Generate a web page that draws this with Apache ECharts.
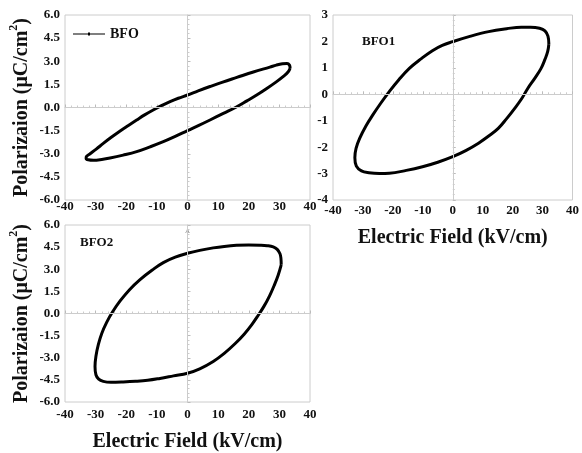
<!DOCTYPE html>
<html><head><meta charset="utf-8">
<script src="https://cdn.jsdelivr.net/npm/echarts@6/dist/echarts.min.js"></script>
<style>html,body{margin:0;padding:0;background:#fff}#c{width:582px;height:453px}</style>
</head><body><div id="c"></div>
<script>
const bfoE = [33.5, 33.3, 32.5, 31.0, 29.0, 26.9, 21.5, 16.1, 11.5, 7.35, 3.5, 0, -3.0, -5.7, -8.5, -11.2, -14.0, -16.6, -19.3, -22.0, -25.0, -27.5, -29.8, -31.8, -33.0, -33.1, -32.4, -30.7, -28.0, -25.3, -21.0, -16.6, -12.2, -7.9, -4.0, 0, 3.7, 7.35, 11.7, 16.1, 19.4, 22.6, 26.0, 29.1, 31.3, 32.9, 33.5];
const bfoP = [2.55, 2.75, 2.86, 2.84, 2.75, 2.62, 2.3, 1.95, 1.65, 1.36, 1.08, 0.81, 0.6, 0.38, 0.12, -0.16, -0.48, -0.81, -1.16, -1.52, -1.95, -2.33, -2.7, -3.0, -3.18, -3.3, -3.39, -3.42, -3.37, -3.28, -3.09, -2.86, -2.55, -2.22, -1.88, -1.5, -1.16, -0.81, -0.38, 0.05, 0.43, 0.81, 1.25, 1.68, 2.02, 2.32, 2.55];
const bfo1E = [32.1, 31.8, 30.8, 29.0, 26.0, 22.9, 18.0, 12.0, 6.0, 0, -3.5, -6.8, -10.5, -14.5, -18.0, -21.2, -24.0, -26.7, -29.0, -31.1, -32.3, -32.7, -32.2, -30.5, -28.0, -24.5, -21.2, -15.5, -10.1, -5.0, 0, 4.5, 8.6, 12.0, 15.2, 18.0, 20.7, 23.0, 25.1, 27.5, 29.5, 30.8, 31.7, 32.1];
const bfo1P = [1.9, 2.2, 2.4, 2.5, 2.54, 2.54, 2.48, 2.37, 2.2, 1.99, 1.85, 1.65, 1.35, 0.98, 0.55, 0.1, -0.33, -0.78, -1.2, -1.67, -2.05, -2.4, -2.72, -2.9, -2.97, -3.0, -2.99, -2.88, -2.74, -2.57, -2.36, -2.12, -1.85, -1.58, -1.29, -0.92, -0.53, -0.17, 0.23, 0.62, 0.98, 1.32, 1.61, 1.9];
const bfo2E = [30.6, 30.5, 30.2, 29.3, 28.0, 26.0, 23.7, 20.0, 16.0, 12.0, 8.4, 4.0, 0, -4.0, -7.9, -11.5, -15.5, -19.0, -22.0, -24.5, -26.4, -28.0, -29.1, -29.9, -30.2, -29.9, -29.0, -27.5, -25.0, -21.0, -17.0, -13.0, -9.0, -4.6, 0, 4.0, 8.4, 12.0, 15.5, 18.5, 21.0, 23.0, 25.0, 26.8, 28.3, 29.6, 30.6];
const bfo2P = [3.3, 3.75, 4.05, 4.35, 4.52, 4.6, 4.63, 4.64, 4.62, 4.55, 4.45, 4.28, 4.08, 3.82, 3.45, 2.95, 2.3, 1.6, 0.85, 0.1, -0.6, -1.35, -2.1, -2.9, -3.6, -4.15, -4.45, -4.6, -4.66, -4.64, -4.6, -4.53, -4.4, -4.23, -4.05, -3.75, -3.25, -2.7, -2.05, -1.4, -0.75, -0.15, 0.5, 1.2, 1.9, 2.6, 3.3];
const xTicks = [-40, -30, -20, -10, 0, 10, 20, 30, 40];
const yTicksA = [-6.0, -4.5, -3.0, -1.5, 0.0, 1.5, 3.0, 4.5, 6.0];
const yTicksB = [-4, -3, -2, -1, 0, 1, 2, 3];
const seriesNames = ['BFO', 'BFO1', 'BFO2'];
const xTitle = 'Electric Field (kV/cm)';

const FONT = '"Liberation Serif", "Times New Roman", serif';
function zip(a, b) { return a.map((v, i) => [v, b[i]]); }
const lbl = { fontFamily: FONT, fontWeight: 'bold', fontSize: 13, color: '#111' };
const yName = '{a|Polarizaion (μC/cm}{s|2}{a|)}';
const yNameStyle = {
  fontFamily: FONT, fontWeight: 'bold', fontSize: 20, color: '#111',
  rich: {
    a: { fontFamily: FONT, fontWeight: 'bold', fontSize: 20, color: '#111', lineHeight: 24, verticalAlign: 'bottom' },
    s: { fontFamily: FONT, fontWeight: 'bold', fontSize: 12, color: '#111', lineHeight: 24, verticalAlign: 'top' }
  }
};
function xAxis(gi, margin, name, gap) {
  return {
    type: 'value', gridIndex: gi, min: xTicks[0], max: xTicks[xTicks.length - 1], interval: 10,
    axisLine: { show: true, lineStyle: { color: '#ccc' } },
    axisTick: { show: true, inside: true, length: 3, lineStyle: { color: '#bbb' } },
    minorTick: { show: true, splitNumber: 5, length: 2, lineStyle: { color: '#ccc' } },
    splitLine: { show: false },
    axisLabel: Object.assign({ margin: margin }, lbl),
    name: name || '', nameLocation: 'middle', nameGap: gap || 30,
    nameTextStyle: { fontFamily: FONT, fontWeight: 'bold', fontSize: 20, color: '#111' }
  };
}
function yAxis(gi, ticks, interval, dec, name) {
  return {
    type: 'value', gridIndex: gi, min: ticks[0], max: ticks[ticks.length - 1], interval: interval,
    axisLine: { show: true, lineStyle: { color: '#ccc' } },
    axisTick: { show: true, inside: true, length: 3, lineStyle: { color: '#bbb' } },
    minorTick: { show: true, splitNumber: 5, length: 2, lineStyle: { color: '#ccc' } },
    splitLine: { show: false },
    axisLabel: Object.assign({ margin: 5, formatter: v => v.toFixed(dec) }, lbl),
    name: name || '', nameLocation: 'middle', nameGap: 33, nameTextStyle: yNameStyle
  };
}
const zeroLines = {
  silent: true, symbol: 'none', label: { show: false },
  lineStyle: { color: '#ccc', width: 1, type: 'solid' },
  data: [{ xAxis: 0 }, { yAxis: 0 }]
};
function loop(name, gi, e, p) {
  return {
    name: name, type: 'line', xAxisIndex: gi, yAxisIndex: gi, data: zip(e, p),
    showSymbol: false, symbol: 'circle', symbolSize: 4, smooth: 0.4,
    lineStyle: { color: '#000', width: 3, join: 'round' }, itemStyle: { color: '#000' },
    markLine: zeroLines, z: 3
  };
}
const chart = echarts.init(document.getElementById('c'));
chart.setOption({
  backgroundColor: '#fff',
  animation: false,
  grid: [
    { left: 65, right: 272, top: 15, height: 185, show: true, borderColor: '#ccc', borderWidth: 1 },
    { left: 333, right: 7, top: 15, height: 185, show: true, borderColor: '#ccc', borderWidth: 1 },
    { left: 65, right: 272, top: 225, height: 185, show: true, borderColor: '#ccc', borderWidth: 1 }
  ],
  xAxis: [xAxis(0, 0), xAxis(1, 4, xTitle, 28), xAxis(2, 6, xTitle, 30)],
  yAxis: [yAxis(0, yTicksA, 1.5, 1, yName), yAxis(1, yTicksB, 1, 0), yAxis(2, yTicksA, 1.5, 1, yName)],
  legend: {
    data: [{ name: seriesNames[0], icon: 'path://M0,4.5L32,4.5L32,5.5L0,5.5Z M15,3.6L17,3.6L17,6.4L15,6.4Z' }],
    left: 68, top: 22, itemWidth: 32, itemHeight: 10, itemGap: 4,
    textStyle: { fontFamily: FONT, fontWeight: 'bold', fontSize: 14, color: '#111' }
  },
  graphic: [
    { type: 'text', left: 362, top: 35, style: { text: seriesNames[1], font: 'bold 13px ' + FONT, fill: '#111' } },
    { type: 'text', left: 80, top: 236, style: { text: seriesNames[2], font: 'bold 13px ' + FONT, fill: '#111' } },
    { type: 'text', left: 185, top: 228, style: { text: 'A', font: '7px ' + FONT, fill: '#888' } }
  ],
  series: [loop(seriesNames[0], 0, bfoE, bfoP), loop(seriesNames[1], 1, bfo1E, bfo1P), loop(seriesNames[2], 2, bfo2E, bfo2P)]
});
</script></body></html>
